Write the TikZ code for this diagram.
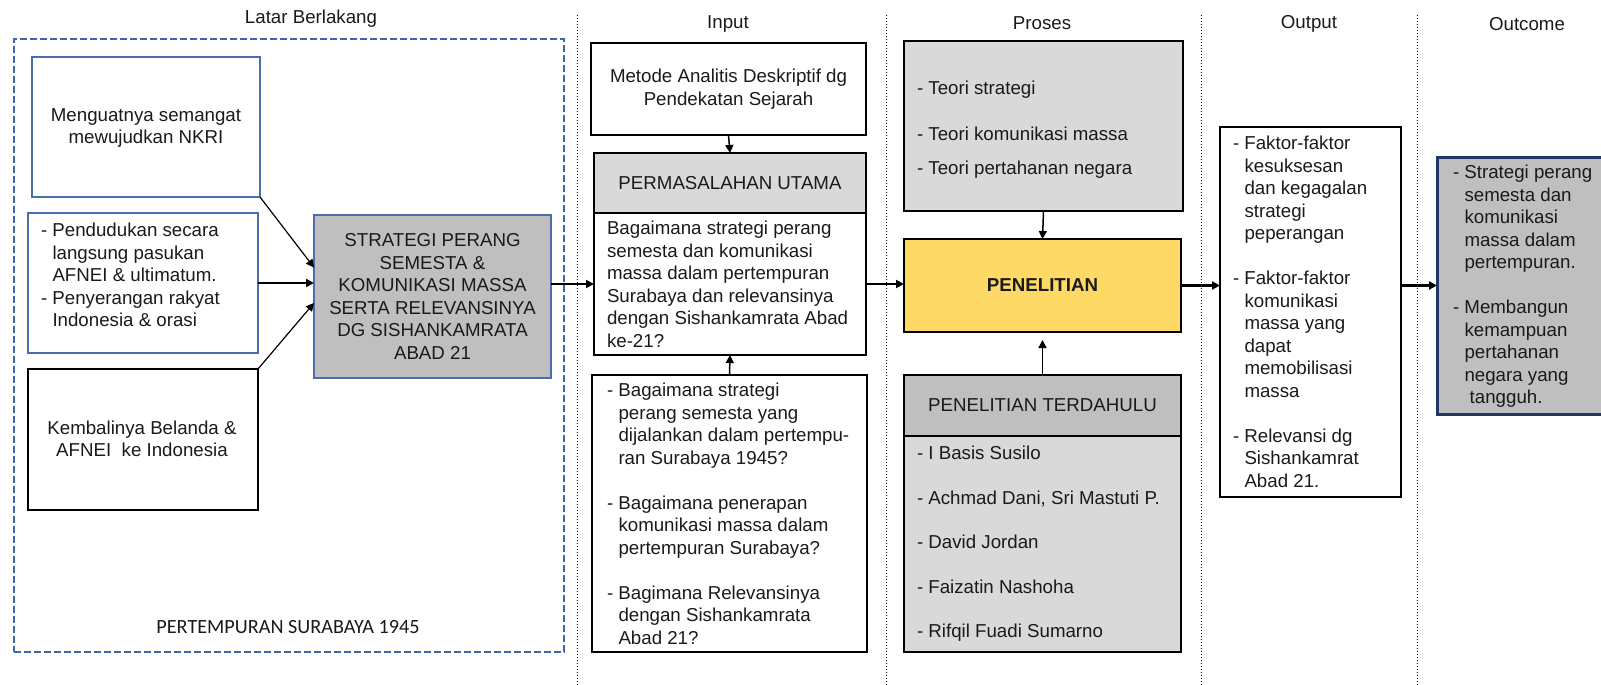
\documentclass[tikz,border=0pt]{standalone}
\usepackage{fontspec}
\setmainfont{Liberation Sans}
\newfontfamily\calib{Carlito}
\usetikzlibrary{arrows.meta,calc}
\definecolor{boxblue}{HTML}{4A6EA9}
\definecolor{dashblue}{HTML}{3E67A8}
\definecolor{navy}{HTML}{1F3864}
\definecolor{gdark}{HTML}{BFBFBF}
\definecolor{glight}{HTML}{D9D9D9}
\definecolor{yel}{HTML}{FFD966}
\definecolor{txtc}{HTML}{1A1A1A}
\newcommand{\fs}{\fontsize{9.35pt}{11.25pt}\selectfont}
\newcommand{\ind}{\hspace*{5.75pt}}
\tikzset{
  bx/.style={draw=black, line width=0.8pt, inner sep=0pt, outer sep=0pt, font=\fs, text=txtc, align=center},
  bluebx/.style={bx, draw=boxblue, line width=0.6pt},
  ltxt/.style={inner sep=0pt, outer sep=0pt, font=\fs, text=txtc, align=left, anchor=west},
  ctxt/.style={inner sep=0pt, outer sep=0pt, font=\fs, text=txtc, align=center},
  arr/.style={-{Triangle[length=4pt,width=4pt]}, line width=0.75pt, black},
  thinarr/.style={arr, line width=0.6pt},
  thickarr/.style={arr, line width=1.4pt},
  vsep/.style={densely dotted, line width=0.5pt, black},
}
\begin{document}
\begin{tikzpicture}[x=0.5pt,y=-0.5pt]
\useasboundingbox (0,0) rectangle (1601,685);
\clip (0,0) rectangle (1601,685);

% column separators
\coordinate (s1t) at (577,15);  \coordinate (s1b) at (577,685);
\coordinate (s2t) at (886,15);  \coordinate (s2b) at (886,685);
\coordinate (s3t) at (1201,15); \coordinate (s3b) at (1201,685);
\coordinate (s4t) at (1417,15); \coordinate (s4b) at (1417,685);
\draw[vsep] (s1t) -- (s1b);
\draw[vsep] (s2t) -- (s2b);
\draw[vsep] (s3t) -- (s3b);
\draw[vsep] (s4t) -- (s4b);

% headings
\node[ctxt] (hlatar) at (311,19) {Latar Berlakang};
\node[ctxt] (hinput) at (728,24) {Input};
\node[ctxt] (hproses) at (1042,23) {Proses};
\node[ctxt] (houtput) at (1309,24) {Output};
\node[ctxt] (houtcome) at (1527,24) {Outcome};

% Latar Berlakang
\node[draw=dashblue, dash pattern=on 3.3pt off 1.7pt, line width=0.75pt, minimum width=275pt, minimum height=306.5pt, inner sep=0pt] (frame) at (289,345.5) {};
\node[bluebx, minimum width=114pt, minimum height=70pt] (b1) at (146,127) {};
\node[ctxt] (t1) at (146,128) {Menguatnya semangat\\mewujudkan NKRI};
\node[bluebx, minimum width=115pt, minimum height=70pt] (b2) at (143,283) {};
\node[ltxt] (t2) at (41,275) {- Pendudukan secara\\\ind langsung pasukan\\\ind AFNEI \& ultimatum.\\- Penyerangan rakyat\\\ind Indonesia \& orasi};
\node[bx, minimum width=115pt, minimum height=70.5pt] (b3) at (143,439.5) {};
\node[ctxt] (t3) at (142,439) {Kembalinya Belanda \&\\AFNEI\ \ ke Indonesia};
\node[bluebx, fill=gdark, minimum width=118.5pt, minimum height=81.5pt] (strat) at (432.5,296.5)
  {STRATEGI PERANG\\SEMESTA \&\\KOMUNIKASI MASSA\\SERTA RELEVANSINYA\\DG SISHANKAMRATA\\ABAD 21};
\node[inner sep=0pt, text=txtc, font=\calib\fontsize{10.1pt}{12pt}\selectfont] (lbl) at (288,627) {PERTEMPURAN SURABAYA 1945};

% Input
\node[bx, minimum width=137.5pt, minimum height=46pt] (met) at (728.5,89) {Metode Analitis Deskriptif dg\\Pendekatan Sejarah};
\node[bx, fill=glight, minimum width=136pt, minimum height=30pt] (ph) at (730,183) {PERMASALAHAN UTAMA};
\node[bx, minimum width=136pt, minimum height=71pt] (pb) at (730,284) {};
\node[ltxt] (pbt) at (607,284.5) {Bagaimana strategi perang\\semesta dan komunikasi\\massa dalam pertempuran\\Surabaya dan relevansinya\\dengan Sishankamrata Abad\\ke-21?};
\node[bx, minimum width=137.5pt, minimum height=138.5pt] (q) at (729.5,513.5) {};
\node[ltxt] (qt) at (607,514) {- Bagaimana strategi\\\ind perang semesta yang\\\ind dijalankan dalam pertempu-\\\ind ran Surabaya 1945?\\[11.25pt]- Bagaimana penerapan\\\ind komunikasi massa dalam\\\ind pertempuran Surabaya?\\[11.25pt]- Bagimana Relevansinya\\\ind dengan Sishankamrata\\\ind Abad 21?};

% Proses
\node[bx, fill=glight, minimum width=139.5pt, minimum height=85pt] (teo) at (1043.5,126) {};
\node[ltxt] (teot) at (917,130) {- Teori strategi\\[11.75pt]- Teori komunikasi massa\\[5.75pt]- Teori pertahanan negara};
\node[bx, fill=yel, minimum width=138.5pt, minimum height=46.5pt, font=\fs\bfseries] (pen) at (1042.5,285.5) {PENELITIAN};
\node[bx, fill=gdark, minimum width=138.5pt, minimum height=30.5pt] (th) at (1042.5,405.5) {PENELITIAN TERDAHULU};
\node[bx, fill=glight, minimum width=138.5pt, minimum height=108pt] (tb) at (1042.5,544) {};
\node[ltxt] (tbt) at (917,544) {- I Basis Susilo\\[11pt]- Achmad Dani, Sri Mastuti P.\\[11pt]- David Jordan\\[11pt]- Faizatin Nashoha\\[11pt]- Rifqil Fuadi Sumarno};

% Output
\node[bx, minimum width=90.5pt, minimum height=185pt] (out) at (1310.5,312) {};
\node[ltxt] (outt) at (1233,312) {- Faktor-faktor\\\ind kesuksesan\\\ind dan kegagalan\\\ind strategi\\\ind peperangan\\[11.25pt]- Faktor-faktor\\\ind komunikasi\\\ind massa yang\\\ind dapat\\\ind memobilisasi\\\ind massa\\[11.25pt]- Relevansi dg\\\ind Sishankamrat\\\ind Abad 21.};

% Outcome
\node[bx, fill=gdark, draw=navy, line width=1.5pt, minimum width=87.5pt, minimum height=128.5pt] (oc) at (1524.5,285.5) {};
\node[ltxt] (oct) at (1453,286.5) {- Strategi perang\\\ind semesta dan\\\ind komunikasi\\\ind massa dalam\\\ind pertempuran.\\[11.25pt]- Membangun\\\ind kemampuan\\\ind pertahanan\\\ind negara yang\\\ind\ tangguh.};

% connectors
\draw[thinarr] (b1.south east) -- ($(strat.west)+(0,-29)$);
\draw[thickarr] (b2.east) -- (b2.east -| strat.west);
\draw[thinarr] (b3.north east) -- ($(strat.west)+(0,6.5)$);
\draw[thickarr] (strat.east |- pb.west) -- (pb.west);
\draw[arr] (met.south) -- (ph.north);
\draw[arr] (q.north) -- (pb.south);
\draw[thickarr] (pb.east) -- (pb.east -| pen.west);
\draw[arr] (teo.south) -- (pen.north);
\draw[arr, shorten >=4pt] (th.north) -- (pen.south);
\draw[thickarr] (pen.east) -- (pen.east -| out.west);
\draw[thickarr] (pen.east -| out.east) -- (pen.east -| oc.west);
\end{tikzpicture}
\end{document}
